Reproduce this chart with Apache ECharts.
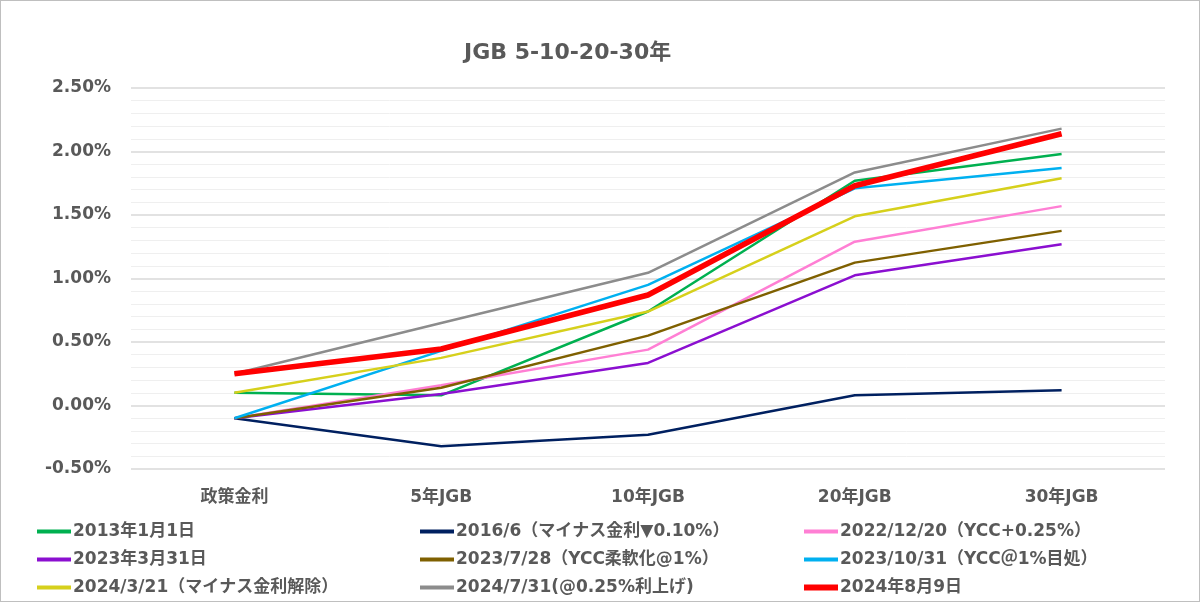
<!DOCTYPE html>
<html><head><meta charset="utf-8">
<script src="https://cdn.jsdelivr.net/npm/echarts@6/dist/echarts.min.js"></script>
<style>
html,body{margin:0;padding:0;background:#fff;}
#c{width:1200px;height:602px;box-sizing:border-box;border:1px solid #bfbfbf;}
</style></head>
<body><div id="c"></div>
<script>
const categories = ['政策金利','5年JGB','10年JGB','20年JGB','30年JGB'];
const seriesNames = [
  '2013年1月1日',
  '2016/6（マイナス金利▼0.10%）',
  '2022/12/20（YCC+0.25%）',
  '2023年3月31日',
  '2023/7/28（YCC柔軟化@1%）',
  '2023/10/31（YCC＠1%目処）',
  '2024/3/21（マイナス金利解除）',
  '2024/7/31(@0.25%利上げ)',
  '2024年8月9日'
];
const s2013 = [0.10, 0.08, 0.74, 1.77, 1.98];
const s2016 = [-0.10, -0.32, -0.23, 0.08, 0.12];
const s2022 = [-0.10, 0.16, 0.44, 1.29, 1.57];
const s2023a = [-0.10, 0.09, 0.335, 1.025, 1.27];
const s2023b = [-0.10, 0.14, 0.55, 1.125, 1.375];
const s2023c = [-0.10, 0.43, 0.95, 1.71, 1.87];
const s2024a = [0.10, 0.375, 0.74, 1.49, 1.79];
const s2024b = [0.25, 0.65, 1.045, 1.835, 2.18];
const s2024c = [0.25, 0.445, 0.87, 1.73, 2.14];
const yTicks = {min:-0.5, max:2.5, interval:0.5};

const allData = [s2013,s2016,s2022,s2023a,s2023b,s2023c,s2024a,s2024b,s2024c];
const colors = ['#00B050','#002060','#FF7FD4','#8B0FD0','#7F6000','#00B0F0','#D6D01C','#8C8C8C','#FF0000'];
const widths = [2.5,2.5,2.5,2.5,2.5,2.5,2.5,2.5,5.5];
const font = '"DejaVu Sans", "Noto Sans CJK JP", sans-serif';
const txt = '#595959';

const chart = echarts.init(document.getElementById('c'));
const legendLeft = [36, 419, 803];
const legendTop = [522, 550, 578];
chart.setOption({
  animation:false,
  title:{text:'JGB 5-10-20-30年', left:458, top:36,
    textStyle:{fontFamily:font, fontSize:22, fontWeight:'bold', color:txt}},
  grid:{left:130, right:34, top:87, bottom:132},
  xAxis:{type:'category', data:categories, boundaryGap:true,
    axisLine:{show:false}, axisTick:{show:false},
    axisLabel:{fontFamily:font, fontSize:17, fontWeight:'bold', color:txt, margin:20}},
  yAxis:{type:'value', min:yTicks.min, max:yTicks.max, interval:yTicks.interval,
    axisLine:{show:false}, axisTick:{show:false},
    axisLabel:{fontFamily:font, fontSize:17, fontWeight:'bold', color:txt, margin:20,
      formatter:v=>v.toFixed(2)+'%'},
    splitLine:{lineStyle:{color:'#D9D9D9', width:1.5}},
    minorTick:{show:false, splitNumber:5},
    minorSplitLine:{show:true, lineStyle:{color:'#EFEFEF', width:1}}},
  legend: seriesNames.map((n,k)=>({
    left:legendLeft[k%3], top:legendTop[Math.floor(k/3)], padding:0,
    itemWidth:34, itemHeight: k===8?6:4, icon:'rect',
    textStyle:{fontFamily:font, fontSize:17, fontWeight:'bold', color:txt, padding:[0,0,0,-3]},
    data:[{name:n, itemStyle:{color:colors[k]}}]
  })),
  series: allData.map((d,i)=>({
    name:seriesNames[i], type:'line', data:d, symbol:'none', z: i===8?5:2,
    lineStyle:{color:colors[i], width:widths[i]}, itemStyle:{color:colors[i]}
  }))
});
</script></body></html>
